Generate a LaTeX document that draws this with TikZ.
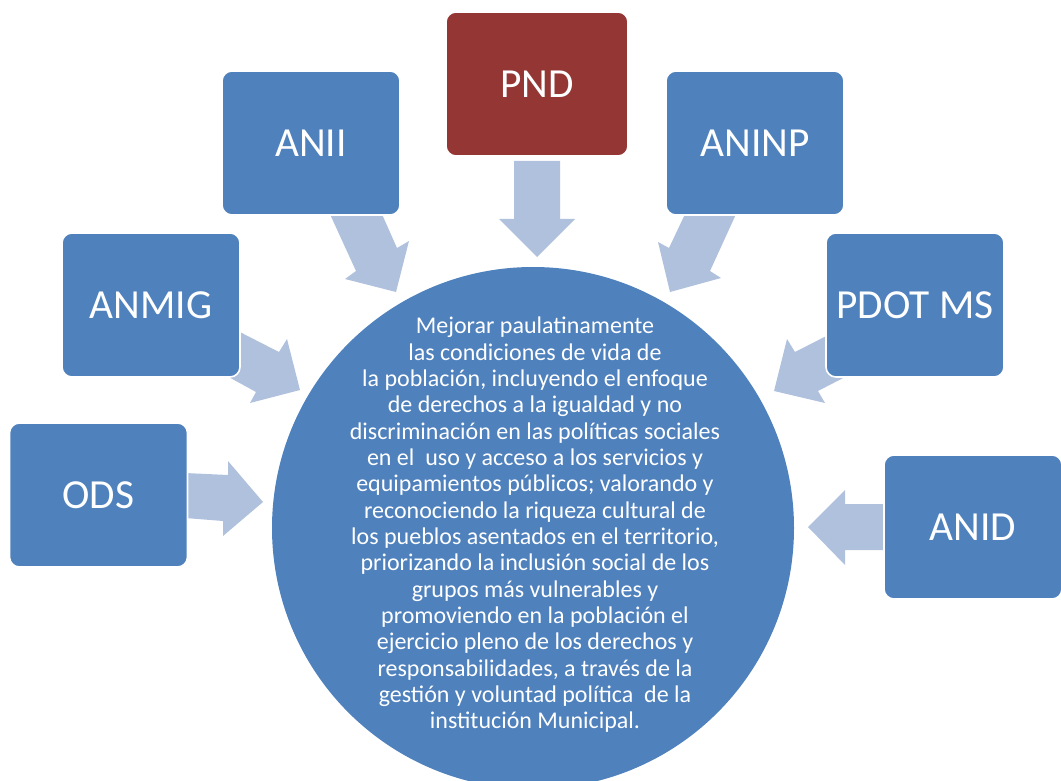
\documentclass[tikz,border=0pt]{standalone}
\usepackage{fontspec}
\setmainfont{Carlito}
\definecolor{boxblue}{HTML}{4F81BD}
\definecolor{pndred}{HTML}{943634}
\definecolor{arrowblue}{HTML}{B0C1DD}
\begin{document}
\begin{tikzpicture}[x=0.75pt,y=-0.75pt,
  box/.style={draw=white,line width=1.2pt,fill=boxblue,rounded corners=7.5pt,
    minimum width=133.5pt,minimum height=108pt,text=white,inner sep=0pt,
    font=\fontsize{31}{37}\selectfont},
  redbox/.style={box,fill=pndred,minimum width=136.5pt},
  blockarrow/.style={fill=arrowblue,draw=none},
  hub/.style={circle,fill=boxblue,draw=none,minimum size=391.5pt,inner sep=0pt},
  hubtext/.style={text=white,align=center,inner sep=0pt,
    font=\fontsize{18}{19.75}\selectfont}]
\useasboundingbox (0,0) rectangle (1061,781);
\clip (0,0) rectangle (1061,781);
% block arrows
\fill[blockarrow] (537,161) -- (514,161) -- (514,219) -- (499,219) -- (537,257) -- (575,219) -- (560,219) -- (560,161) -- cycle;
\fill[blockarrow] (329,212) -- (356,271) -- (345,279) -- (396,292) -- (409,241) -- (397,248) -- (381,212) -- cycle;
\fill[blockarrow] (737,212) -- (710,271) -- (721,278) -- (670,292) -- (658,242) -- (669,248) -- (686,212) -- cycle;
\fill[blockarrow] (232,328) -- (279,352) -- (287,339) -- (300,390) -- (250,403) -- (256,392) -- (225,375) -- cycle;
\fill[blockarrow] (842,328) -- (795,352) -- (787,339) -- (774,391) -- (825,403) -- (818,391) -- (849,375) -- cycle;
\fill[blockarrow] (185,473) -- (228,475) -- (228,461) -- (263,502) -- (223,536) -- (223,521) -- (185,518) -- cycle;
\fill[blockarrow] (888,504) -- (845,504) -- (845,490) -- (808,527) -- (845,565) -- (845,550) -- (888,550) -- cycle;
% boxes
\node[redbox] (pnd) at (537,84) {PND};
\node[box] (anii) at (311,143) {ANII};
\node[box] (aninp) at (755,143) {ANINP};
\node[box] (anmig) at (151,305) {ANMIG};
\node[box] (pdot) at (915,305) {PDOT MS};
\node[box] (ods) at (98.5,495) {ODS};
\node[box] (anid) at (973,527) {ANID};
% hub
\node[hub] (hub) at (533,528) {};
\node[hubtext] (goal) at (535,525) {Mejorar paulatinamente\\
las condiciones de vida de\\
la población, incluyendo el enfoque\\
de derechos a la igualdad y no\\
discriminación en las políticas sociales\\
en el\ \ uso y acceso a los servicios y\\
equipamientos públicos; valorando y\\
reconociendo la riqueza cultural de\\
los pueblos asentados en el territorio,\\
priorizando la inclusión social de los\\
grupos más vulnerables y\\
promoviendo en la población el\\
ejercicio pleno de los derechos y\\
responsabilidades, a través de la\\
gestión y voluntad política\ \ de la\\
institución Municipal.};
\end{tikzpicture}
\end{document}
